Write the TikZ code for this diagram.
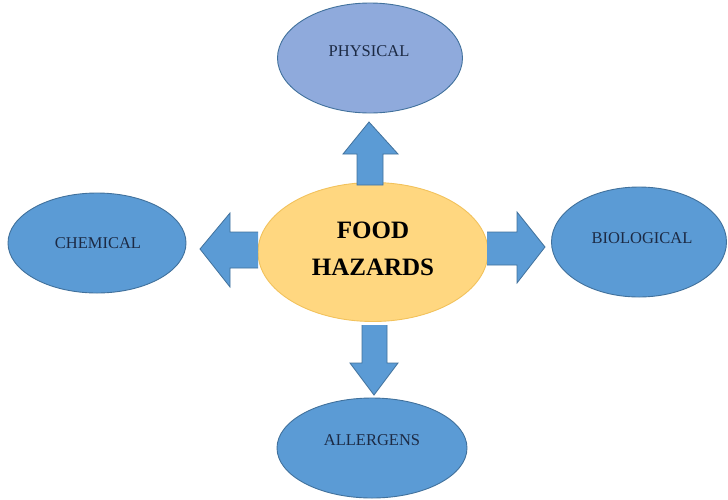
\documentclass[tikz,border=0pt]{standalone}
\usepackage{fontspec}
\setmainfont{Liberation Serif}
\usetikzlibrary{shapes.geometric}
\definecolor{hazblue}{HTML}{5B9BD5}
\definecolor{hazedge}{HTML}{41719C}
\definecolor{physfill}{HTML}{8FAADC}
\definecolor{corefill}{HTML}{FFD780}
\definecolor{coreedge}{HTML}{F2C25C}
\definecolor{labeltext}{HTML}{1C2A44}
\tikzset{
  hazard/.style={ellipse, draw=hazedge, fill=hazblue, line width=0.9pt, inner sep=0pt},
  core/.style={ellipse, draw=coreedge, fill=corefill, line width=0.9pt, inner sep=0pt},
  hazlabel/.style={text=labeltext, font=\fontsize{16.5}{18}\selectfont, inner sep=0pt},
  corelabel/.style={text=black, font=\fontsize{25}{37}\selectfont\bfseries, align=center, inner sep=0pt},
  blockarrow/.style={draw=hazedge, fill=hazblue, line width=0.8pt, line join=miter}
}
\begin{document}
\begin{tikzpicture}[x=1pt, y=-1pt]
  \useasboundingbox (0,0) rectangle (728,499);

  % outer hazard categories
  \node[hazard, fill=physfill, minimum width=185pt, minimum height=110pt] (physical) at (370,58) {};
  \node[hazard, minimum width=178pt, minimum height=100pt] (chemical) at (97,243) {};
  \node[hazard, minimum width=175pt, minimum height=110pt] (biological) at (639,242) {};
  \node[hazard, minimum width=190pt, minimum height=100pt] (allergens) at (372,448) {};

  % central topic
  \node[core, minimum width=230pt, minimum height=139pt] (food) at (373,252) {};

  % block arrows pointing outwards
  \draw[blockarrow] (357,185) -- (357,154) -- (343,154) -- (369,122) -- (398,154) -- (383,154) -- (383,185) -- cycle;
  \draw[blockarrow] (258,232) -- (230,232) -- (230,213) -- (200,249) -- (230,287) -- (230,268) -- (258,268);
  \draw[blockarrow] (487,232) -- (517,232) -- (517,212) -- (545,247) -- (517,283) -- (517,265) -- (487,265);
  \draw[blockarrow] (362,325) -- (362,363) -- (350,363) -- (374,395) -- (398,363) -- (387,363) -- (387,325);

  % texts
  \node[hazlabel] (physical-text) at (369,51) {PHYSICAL};
  \node[hazlabel] (chemical-text) at (98,243) {CHEMICAL};
  \node[hazlabel] (biological-text) at (642,238) {BIOLOGICAL};
  \node[hazlabel] (allergens-text) at (372,440) {ALLERGENS};
  \node[corelabel] (food-text) at (373,249) {FOOD\\HAZARDS};
\end{tikzpicture}
\end{document}
